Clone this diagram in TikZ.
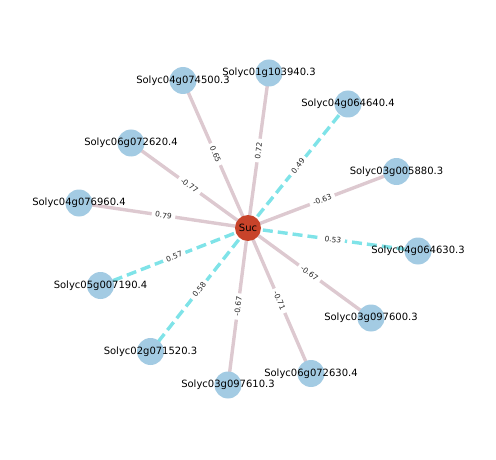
\documentclass[tikz,border=0pt]{standalone}
\usepackage{fontspec}
\setmainfont{DejaVu Sans}
\usetikzlibrary{backgrounds}
\definecolor{nodeblue}{HTML}{A3CBE3}
\definecolor{sucred}{HTML}{C8432A}
\definecolor{posedge}{HTML}{DDC9D0}
\definecolor{negedge}{HTML}{7FE3E8}
\tikzset{
  gene/.style={circle, fill=nodeblue, minimum size=27pt, inner sep=0pt},
  hub/.style={circle, fill=sucred, minimum size=26pt, inner sep=0pt},
  glabel/.style={font=\fontsize{10}{12}\selectfont, text=black, inner sep=0pt},
  solidedge/.style={draw=posedge, line width=3.4pt},
  dashedge/.style={draw=negedge, line width=3.4pt, dash pattern=on 10pt off 5pt},
  elabel/.style={midway, sloped, fill=white, inner xsep=3.5pt, inner ysep=1.5pt, font=\fontsize{7.5}{9}\selectfont, text=black!85},
}
\begin{document}
\begin{tikzpicture}[x=1pt, y=-1pt]
\useasboundingbox (0,0) rectangle (496,460);
\node[hub, label={[glabel]center:Suc}] (suc) at (248,228) {};
\node[gene, label={[glabel]center:Solyc04g074500.3}] (a) at (183,80.5) {};
\node[gene, label={[glabel]center:Solyc01g103940.3}] (b) at (269,73) {};
\node[gene, label={[glabel]center:Solyc04g064640.4}] (c) at (348,104) {};
\node[gene, label={[glabel]center:Solyc06g072620.4}] (d) at (131,143) {};
\node[gene, label={[glabel]center:Solyc03g005880.3}] (e) at (396.5,171.5) {};
\node[gene, label={[glabel]center:Solyc04g076960.4}] (f) at (79,203) {};
\node[gene, label={[glabel]center:Solyc04g064630.3}] (g) at (418,251) {};
\node[gene, label={[glabel]center:Solyc05g007190.4}] (h) at (100.5,285.5) {};
\node[gene, label={[glabel]center:Solyc03g097600.3}] (i) at (371,318) {};
\node[gene, label={[glabel]center:Solyc02g071520.3}] (j) at (150.5,351.5) {};
\node[gene, label={[glabel]center:Solyc06g072630.4}] (k) at (311,373.5) {};
\node[gene, label={[glabel]center:Solyc03g097610.3}] (l) at (228,385) {};
\begin{pgfonlayer}{background}
\draw[solidedge] (suc.center) -- (a.center);
\draw[solidedge] (suc.center) -- (b.center);
\draw[dashedge] (suc.center) -- (c.center);
\draw[solidedge] (suc.center) -- (d.center);
\draw[solidedge] (suc.center) -- (e.center);
\draw[solidedge] (suc.center) -- (f.center);
\draw[dashedge] (suc.center) -- (g.center);
\draw[dashedge] (suc.center) -- (h.center);
\draw[solidedge] (suc.center) -- (i.center);
\draw[dashedge] (suc.center) -- (j.center);
\draw[solidedge] (suc.center) -- (k.center);
\draw[solidedge] (suc.center) -- (l.center);
\end{pgfonlayer}
\path (suc.center) -- (a.center) node[elabel] {0.65};
\path (suc.center) -- (b.center) node[elabel] {0.72};
\path (suc.center) -- (c.center) node[elabel] {0.49};
\path (suc.center) -- (d.center) node[elabel] {-0.77};
\path (suc.center) -- (e.center) node[elabel] {-0.63};
\path (suc.center) -- (f.center) node[elabel] {0.79};
\path (suc.center) -- (g.center) node[elabel] {0.53};
\path (suc.center) -- (h.center) node[elabel] {0.57};
\path (suc.center) -- (i.center) node[elabel] {-0.67};
\path (suc.center) -- (j.center) node[elabel] {0.58};
\path (suc.center) -- (k.center) node[elabel] {-0.71};
\path (suc.center) -- (l.center) node[elabel] {-0.67};
\end{tikzpicture}
\end{document}
